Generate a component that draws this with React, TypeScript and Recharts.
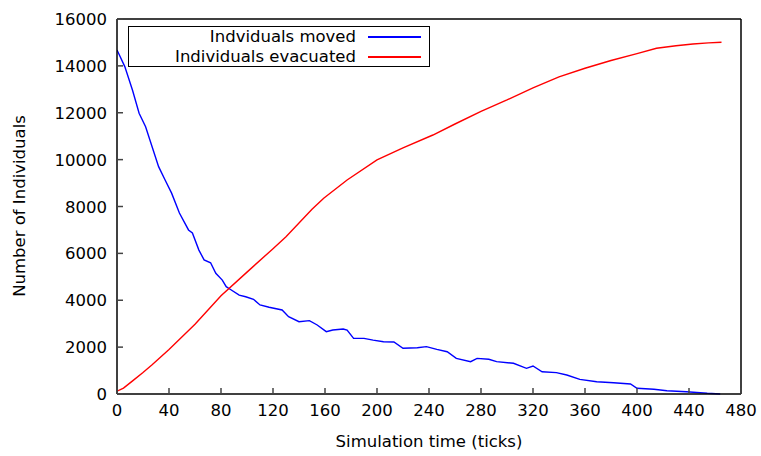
import React from 'react'
import { LineChart, Line, XAxis, YAxis, Label } from 'recharts'

const FONT = '"DejaVu Sans", sans-serif'
const FS = 16.5

// "Indviduals moved" (blue)
const movedTicks = [
  0, 6, 12, 17, 22, 27, 32, 37, 42, 48, 55, 58, 63, 67, 72, 76, 81, 84, 87, 94,
  99, 105, 110, 117, 127, 132, 140, 148, 154, 161, 166, 174, 177, 182, 190, 197, 205, 213, 220, 231,
  238, 246, 254, 261, 272, 277, 286, 292, 305, 315, 320, 327, 338, 346, 356, 369, 382, 395, 400, 413,
  423, 438, 454, 464,
]
const movedValues = [
  14680, 13970, 12950, 11980, 11400, 10550, 9700, 9130, 8570, 7720, 7000, 6870, 6140, 5720, 5600, 5150, 4860, 4580, 4470, 4220,
  4150, 4040, 3800, 3700, 3585, 3300, 3085, 3130, 2945, 2660, 2730, 2775, 2730, 2375, 2375, 2300, 2230, 2220, 1950, 1975,
  2020, 1905, 1805, 1520, 1380, 1520, 1480, 1380, 1310, 1095, 1195, 950, 910, 810, 625, 525, 482, 427, 243, 200,
  140, 98, 30, 0,
]

// "Individuals evacuated" (red)
const evacTicks = [
  0, 5, 12, 20, 27, 40, 60, 80, 100, 120, 130, 150, 159, 177, 200, 220, 243, 260, 280, 300,
  320, 340, 360, 380, 400, 415, 430, 443, 455, 465,
]
const evacValues = [
  120, 250, 560, 920, 1250, 1900, 2980, 4190, 5200, 6200, 6710, 7880, 8350, 9130, 9985, 10500, 11050, 11520, 12060, 12545,
  13060, 13530, 13900, 14230, 14520, 14750, 14860, 14935, 14980, 15010,
]

const xTicks = [0, 40, 80, 120, 160, 200, 240, 280, 320, 360, 400, 440, 480]
const yTicks = [0, 2000, 4000, 6000, 8000, 10000, 12000, 14000, 16000]

const moved = movedTicks.map((t, i) => ({ t, v: movedValues[i] }))
const evac = evacTicks.map((t, i) => ({ t, v: evacValues[i] }))

const TICK_LEN = 6
const TICK_COLOR = '#444'

function BottomTick(props: any) {
  const { x, y, payload } = props
  const axisY = y - 8
  return (
    <g>
      <line x1={x} x2={x} y1={axisY} y2={axisY - TICK_LEN} stroke={TICK_COLOR} strokeWidth={1.5} />
      <text x={x} y={axisY + 22} textAnchor="middle" fontFamily={FONT} fontSize={FS} fill="#000">
        {payload.value}
      </text>
    </g>
  )
}

function LeftTick(props: any) {
  const { x, y, payload } = props
  const axisX = x + 8
  return (
    <g>
      <line x1={axisX} x2={axisX + TICK_LEN} y1={y} y2={y} stroke={TICK_COLOR} strokeWidth={1.5} />
      <text x={axisX - 10} y={y + 6} textAnchor="end" fontFamily={FONT} fontSize={FS} fill="#000">
        {payload.value}
      </text>
    </g>
  )
}

function TopTick(props: any) {
  const { x, y } = props
  return <line x1={x} x2={x} y1={y} y2={y + TICK_LEN} stroke={TICK_COLOR} strokeWidth={1.5} />
}

function RightTick(props: any) {
  const { x, y } = props
  return <line x1={x} x2={x - TICK_LEN} y1={y} y2={y} stroke={TICK_COLOR} strokeWidth={1.5} />
}

const legendItems = [
  { label: 'Indviduals moved', color: '#0000ff' },
  { label: 'Individuals evacuated', color: '#ff0000' },
]

function LegendBox() {
  return (
    <div
      style={{
        position: 'absolute',
        left: 128,
        top: 26,
        border: '1px solid #000',
        boxSizing: 'border-box',
        width: 302,
        height: 41,
        background: '#fff',
        fontFamily: FONT,
        fontSize: FS,
        color: '#000',
      }}
    >
      {legendItems.map((it) => (
        <div key={it.label} style={{ display: 'flex', alignItems: 'center', height: 20, lineHeight: '20px' }}>
          <span style={{ width: 227, textAlign: 'right', whiteSpace: 'nowrap' }}>{it.label}</span>
          <span style={{ marginLeft: 12, width: 53, height: 2, background: it.color }} />
        </div>
      ))}
    </div>
  )
}

export default function App() {
  return (
    <div style={{ position: 'absolute', left: 0, top: 0, width: 761, height: 456, background: '#fff' }}>
      <LineChart width={761} height={456} margin={{ top: 18, right: 19, bottom: 32, left: 0 }}>
        <XAxis
          xAxisId="bottom"
          dataKey="t"
          type="number"
          domain={[0, 480]}
          ticks={xTicks}
          allowDataOverflow
          height={30}
          tickSize={0}
          tickMargin={8}
          tickLine={false}
          tick={<BottomTick />}
          axisLine={{ stroke: '#000', strokeWidth: 1.5 }}
        >
          <Label
            content={() => (
              <text x={429} y={447} textAnchor="middle" fontFamily={FONT} fontSize={FS} fill="#000">
                Simulation time (ticks)
              </text>
            )}
          />
        </XAxis>
        <XAxis
          xAxisId="top"
          orientation="top"
          type="number"
          domain={[0, 480]}
          ticks={xTicks}
          height={1}
          tickSize={0}
          tickMargin={0}
          tickLine={false}
          tick={<TopTick />}
          axisLine={{ stroke: '#000', strokeWidth: 1.5 }}
        />
        <YAxis
          yAxisId="left"
          type="number"
          domain={[0, 16000]}
          ticks={yTicks}
          width={117}
          tickSize={0}
          tickMargin={8}
          tickLine={false}
          tick={<LeftTick />}
          axisLine={{ stroke: '#000', strokeWidth: 1.5 }}
        >
          <Label
            content={() => (
              <text
                x={25}
                y={206}
                transform="rotate(-90 25 206)"
                textAnchor="middle"
                fontFamily={FONT}
                fontSize={FS}
                fill="#000"
              >
                Number of Individuals
              </text>
            )}
          />
        </YAxis>
        <YAxis
          yAxisId="right"
          orientation="right"
          type="number"
          domain={[0, 16000]}
          ticks={yTicks}
          width={1}
          tickSize={0}
          tickMargin={0}
          tickLine={false}
          tick={<RightTick />}
          axisLine={{ stroke: '#000', strokeWidth: 1.5 }}
        />
        <Line
          xAxisId="bottom"
          yAxisId="left"
          data={moved}
          dataKey="v"
          name="Indviduals moved"
          type="linear"
          stroke="#0000ff"
          strokeWidth={1.4}
          dot={false}
          isAnimationActive={false}
        />
        <Line
          xAxisId="bottom"
          yAxisId="left"
          data={evac}
          dataKey="v"
          name="Individuals evacuated"
          type="linear"
          stroke="#ff0000"
          strokeWidth={1.4}
          dot={false}
          isAnimationActive={false}
        />
      </LineChart>
      <LegendBox />
    </div>
  )
}
